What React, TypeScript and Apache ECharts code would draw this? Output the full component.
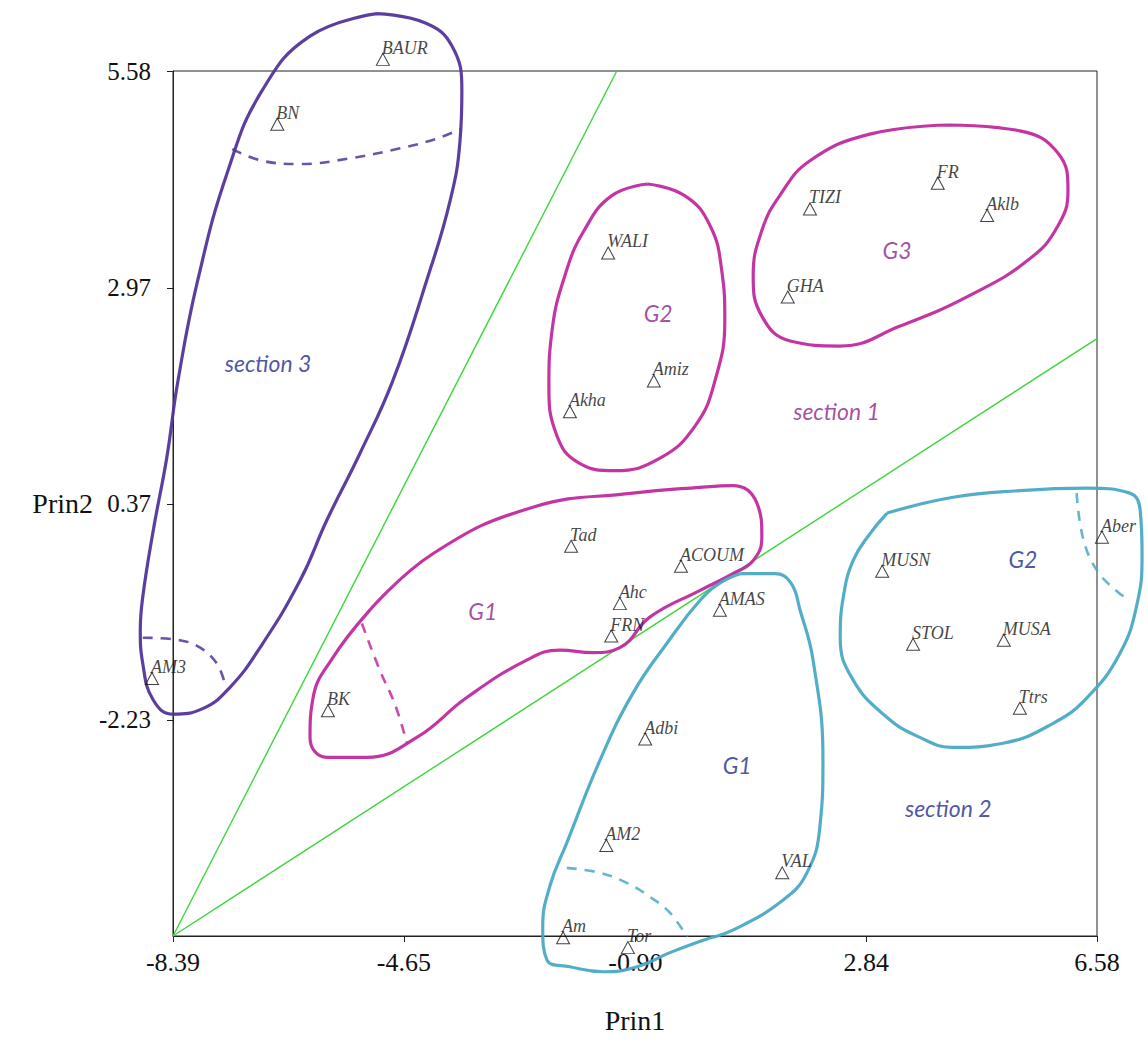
import React, { useEffect, useRef } from "react";
import * as echarts from "echarts";

// ---- axes ----
const xMin = -8.39;
const xMax = 6.58;
const yMin = -4.83;
const yMax = 5.58;
const xTicks = [-8.39, -4.65, -0.9, 2.84, 6.58];
const yTicks = [-2.23, 0.37, 2.97, 5.58];

// ---- sites (Prin1, Prin2) ----
const sites = ["BAUR", "BN", "TIZI", "FR", "Aklb", "WALI", "GHA", "Amiz", "Akha", "Tad", "ACOUM", "Aber", "MUSN", "Ahc", "AMAS", "FRN", "STOL", "MUSA", "AM3", "BK", "Ttrs", "Adbi", "AM2", "VAL", "Am", "Tor"];
const prin1 = [-4.99, -6.7, 1.93, 4.0, 4.8, -1.34, 1.57, -0.6, -1.96, -1.94, -0.16, 6.66, 3.1, -1.15, 0.47, -1.29, 3.6, 5.07, -8.73, -5.88, 5.33, -0.74, -1.37, 1.48, -2.07, -1.02];
const prin2 = [5.72, 4.94, 3.92, 4.23, 3.84, 3.39, 2.86, 1.85, 1.48, -0.14, -0.38, -0.03, -0.44, -0.83, -0.91, -1.22, -1.32, -1.27, -1.73, -2.12, -2.09, -2.46, -3.74, -4.07, -4.85, -4.97];

// ---- annotations ----
const magentaNotes = [
  { name: "section 1", value: [2.36, 1.49] },
  { name: "G2", value: [-0.53, 2.67] },
  { name: "G3", value: [3.34, 3.43] },
  { name: "G1", value: [-3.37, -0.92] },
];
const blueNotes = [
  { name: "section 3", value: [-6.85, 2.07] },
  { name: "section 2", value: [4.17, -3.29] },
  { name: "G1", value: [0.75, -2.77] },
  { name: "G2", value: [5.38, -0.29] },
];

// ---- separating lines ----
const guideA = [[-8.39, -4.83], [-1.2, 5.58]];
const guideB = [[-8.39, -4.83], [6.58, 2.36]];

// ---- hand-drawn group outlines ----
const section3Outline = [[-5.08, 6.27], [-4.31, 6.16], [-3.87, 5.88], [-3.71, 5.34], [-3.74, 4.74], [-3.9, 4.02], [-4.28, 3.06], [-4.83, 1.85], [-5.36, 0.98], [-5.9, 0.17], [-6.33, -0.55], [-6.98, -1.36], [-7.47, -1.84], [-7.9, -2.09], [-8.39, -2.16], [-8.71, -1.99], [-8.88, -1.55], [-8.92, -1.15], [-8.88, -0.75], [-8.71, 0.05], [-8.49, 0.93], [-8.31, 1.85], [-7.99, 3.06], [-7.5, 4.38], [-6.95, 5.34], [-6.17, 6.0]];
const section3DashTop = [[-7.43, 4.64], [-6.95, 4.5], [-6.33, 4.46], [-5.52, 4.53], [-4.71, 4.65], [-4.14, 4.76], [-3.74, 4.88]];
const section3DashBottom = [[-8.88, -1.24], [-8.28, -1.27], [-7.95, -1.36], [-7.68, -1.55], [-7.55, -1.79]];

const s1G2Outline = [[-0.7, 4.22], [-0.1, 4.08], [0.31, 3.72], [0.5, 3.18], [0.55, 2.58], [0.39, 1.85], [0.07, 1.31], [-0.5, 0.92], [-1.23, 0.77], [-1.83, 0.87], [-2.17, 1.19], [-2.3, 1.79], [-2.25, 2.45], [-2.04, 3.12], [-1.73, 3.66], [-1.28, 4.08]];
const s1G3Outline = [[4.2, 4.93], [5.33, 4.86], [5.95, 4.59], [6.11, 4.14], [5.95, 3.72], [5.49, 3.32], [4.52, 2.88], [3.39, 2.51], [2.42, 2.27], [1.61, 2.33], [1.15, 2.63], [1.01, 3.12], [1.15, 3.66], [1.44, 4.08], [1.93, 4.5], [2.9, 4.82]];
const s1G1Outline = [[-5.25, -0.95], [-4.18, -0.23], [-2.56, 0.33], [-0.94, 0.5], [0.15, 0.57], [0.68, 0.59], [1.07, 0.38], [1.15, -0.03], [1.01, -0.31], [0.68, -0.47], [0.15, -0.67], [-0.66, -0.99], [-1.15, -1.36], [-1.59, -1.42], [-2.12, -1.39], [-2.66, -1.51], [-3.63, -1.96], [-4.44, -2.44], [-5.25, -2.68], [-5.9, -2.68], [-6.17, -2.44], [-6.12, -1.96], [-5.8, -1.48]];
const s1G1Dash = [[-5.33, -1.07], [-5.04, -1.63], [-4.79, -2.05], [-4.6, -2.51]];

const s2G1Outline = [[0.8, -0.47], [1.36, -0.47], [1.62, -0.58], [1.77, -0.91], [1.98, -1.51], [2.14, -2.71], [2.09, -3.52], [1.88, -4.07], [1.49, -4.4], [0.68, -4.76], [0.2, -4.88], [-0.34, -5.03], [-0.87, -5.2], [-1.42, -5.26], [-1.96, -5.2], [-2.33, -5.12], [-2.4, -4.72], [-2.28, -4.22], [-2.01, -3.71], [-1.47, -2.71], [-0.94, -1.91], [-0.39, -1.31], [0.15, -0.79], [0.5, -0.57]];
const s2G1Dash = [[-2.01, -4.01], [-1.47, -4.07], [-1.04, -4.19], [-0.66, -4.36], [-0.34, -4.55], [-0.06, -4.84]];
const s2G2Outline = [[3.18, 0.26], [4.25, 0.45], [5.33, 0.53], [6.42, 0.56], [7.11, 0.5], [7.28, 0.29], [7.31, -0.23], [7.23, -0.83], [6.95, -1.43], [6.42, -1.96], [5.87, -2.27], [5.06, -2.51], [4.25, -2.56], [3.71, -2.44], [3.18, -2.2], [2.63, -1.75], [2.42, -1.24], [2.47, -0.75], [2.63, -0.31], [2.9, 0.01]];
const s2G2Dash = [[6.25, 0.5], [6.35, -0.03], [6.58, -0.43], [6.95, -0.71], [7.11, -0.77]];

const PURPLE = "#52349a";
const MAGENTA = "#c12a9e";
const CYAN = "#4aa9c6";

// layout (pixels)
const PAGE_W = 1148;
const PAGE_H = 1046;
const GL = 173;
const GR = 51;
const GT = 71;
const GB = 110;

function loop(data: number[][], color: string) {
  return {
    type: "line",
    xAxisIndex: 1,
    yAxisIndex: 1,
    data: [...data, data[0]],
    smooth: 0.45,
    symbol: "none",
    silent: true,
    z: 2,
    lineStyle: { color, width: 3.2, opacity: 0.95 },
  };
}
function dash(data: number[][], color: string) {
  return {
    type: "line",
    xAxisIndex: 1,
    yAxisIndex: 1,
    data,
    smooth: 0.4,
    symbol: "none",
    silent: true,
    z: 2,
    lineStyle: { color, width: 2.6, type: [10, 8], opacity: 0.85 },
  };
}
function guide(data: number[][]) {
  return {
    type: "line",
    data,
    symbol: "none",
    clip: false,
    silent: true,
    z: 1,
    lineStyle: { color: "#3bd63b", width: 1.4 },
  };
}
function notes(data: any[], color: string) {
  return {
    type: "scatter",
    data,
    symbol: "circle",
    symbolSize: 1,
    clip: false,
    silent: true,
    z: 4,
    itemStyle: { color: "rgba(0,0,0,0)" },
    label: {
      show: true,
      position: "inside",
      formatter: (p: any) => p.name,
      fontFamily: "Lato",
      fontStyle: "italic",
      fontSize: 23,
      color,
    },
  };
}

export default function App() {
  const ref = useRef<HTMLDivElement>(null);
  useEffect(() => {
    const chart = echarts.init(ref.current!, null, { renderer: "svg" });
    const serifAxis = { fontFamily: "Liberation Serif", color: "#111" };
    const kx = (xMax - xMin) / (PAGE_W - GL - GR);
    const ky = (yMax - yMin) / (PAGE_H - GT - GB);
    chart.setOption({
      animation: false,
      backgroundColor: "#fff",
      grid: [
        { left: GL, right: GR, top: GT, bottom: GB, show: true, borderColor: "#222", borderWidth: 1 },
        { left: 0, right: 0, top: 0, bottom: 0, show: false, outerBoundsMode: "none" },
      ],
      xAxis: [
        {
          type: "value",
          min: xMin,
          max: xMax,
          axisLine: { show: true, onZero: false, lineStyle: { color: "#222", width: 1 } },
          axisTick: { show: true, customValues: xTicks, length: 6, lineStyle: { color: "#222" } },
          axisLabel: { customValues: xTicks, formatter: (v: number) => v.toFixed(2), fontSize: 26, margin: 13, ...serifAxis },
          splitLine: { show: false },
          name: "Prin1",
          nameLocation: "middle",
          nameGap: 70,
          nameTextStyle: { fontSize: 28, ...serifAxis },
        },
        {
          type: "value",
          gridIndex: 1,
          min: xMin - GL * kx,
          max: xMax + GR * kx,
          show: false,
          splitLine: { show: false },
        },
      ],
      yAxis: [
        {
          type: "value",
          min: yMin,
          max: yMax,
          axisLine: { show: true, onZero: false, lineStyle: { color: "#222", width: 1 } },
          axisTick: { show: true, customValues: yTicks, length: 6, lineStyle: { color: "#222" } },
          axisLabel: { customValues: yTicks, formatter: (v: number) => v.toFixed(2), fontSize: 25, margin: 22, ...serifAxis },
          splitLine: { show: false },
          name: "Prin2",
          nameLocation: "middle",
          nameRotate: 0,
          nameGap: 80,
          nameTextStyle: { fontSize: 28, ...serifAxis },
        },
        {
          type: "value",
          gridIndex: 1,
          min: yMin - GB * ky,
          max: yMax + GT * ky,
          show: false,
          splitLine: { show: false },
        },
      ],
      series: [
        guide(guideA),
        guide(guideB),
        loop(section3Outline, PURPLE),
        dash(section3DashTop, PURPLE),
        dash(section3DashBottom, PURPLE),
        loop(s1G2Outline, MAGENTA),
        loop(s1G3Outline, MAGENTA),
        loop(s1G1Outline, MAGENTA),
        dash(s1G1Dash, MAGENTA),
        loop(s2G1Outline, CYAN),
        dash(s2G1Dash, CYAN),
        loop(s2G2Outline, CYAN),
        dash(s2G2Dash, CYAN),
        {
          type: "scatter",
          data: sites.map((n, i) => ({ name: n, value: [prin1[i], prin2[i]] })),
          symbol: "triangle",
          symbolSize: [13, 12],
          clip: false,
          z: 5,
          itemStyle: { color: "rgba(255,255,255,0)", borderColor: "#111", borderWidth: 1 },
          label: {
            show: true,
            formatter: (p: any) => p.name,
            position: "top",
            align: "left",
            verticalAlign: "bottom",
            distance: 0,
            offset: [-1, 4],
            fontFamily: "Liberation Serif",
            fontStyle: "italic",
            fontSize: 18,
            color: "#111",
          },
        },
        notes(magentaNotes, "#8e1f8c"),
        notes(blueNotes, "#1e2a8e"),
      ],
    });
    return () => chart.dispose();
  }, []);
  return (
    <div
      ref={ref}
      style={{ position: "fixed", left: 0, top: 0, width: PAGE_W, height: PAGE_H, background: "#fff" }}
    />
  );
}
